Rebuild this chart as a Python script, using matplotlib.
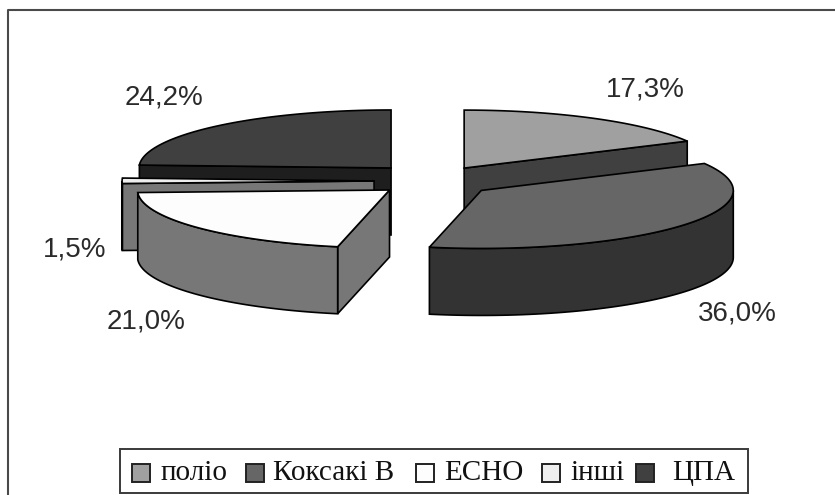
import numpy as np
import matplotlib
matplotlib.use('Agg')
import matplotlib.pyplot as plt
from matplotlib.patches import Polygon, Rectangle

# share of isolates per group, percent
categories = ['поліо', 'Коксакі B', 'ECHO', 'інші', 'ЦПА']
values = [17.3, 36.0, 21.0, 1.5, 24.2]
value_labels = ['17,3%', '36,0%', '21,0%', '1,5%', '24,2%']

# pie look
top_colors = ['#a0a0a0', '#666666', '#fdfdfd', '#eeeeee', '#404040']
rim_colors = ['#505050', '#333333', '#777777', '#777777', '#222222']
cut_colors = ['#404040', '#333333', '#777777', '#777777', '#1e1e1e']
explode_x = [0.285, 0.27, 0.195, 0.21, 0.207]
explode_y = [0.26, 0.27, 0.24, 0.22, 0.31]
draw_order = [4, 3, 2, 0, 1]  # back slices first
label_pos = [(645, 89), (737, 313), (146, 322), (75, 250), (164, 97)]

W, H = 835, 495
CX, CY = 427, 181
RX, RY = 252, 58
DEPTH = 67

fig = plt.figure(figsize=(W / 100, H / 100), dpi=100)
ax = fig.add_axes([0, 0, 1, 1])
ax.set_xlim(0, W)
ax.set_ylim(H, 0)
ax.axis('off')

# outer chart frame, open to the right and bottom edges
ax.plot([7.5, 7.5, 835], [495, 9.5, 9.5], color='#4a4a4a', lw=1.5, solid_capstyle='butt')


def rim(theta):
    return RX * np.sin(theta), -RY * np.cos(theta)


edges = np.cumsum([0] + values) / sum(values) * 2 * np.pi

for i in draw_order:
    a0, a1 = edges[i], edges[i + 1]
    mid = (a0 + a1) / 2
    ox = CX + explode_x[i] * RX * np.sin(mid)
    oy = CY - explode_y[i] * RY * np.cos(mid)
    t = np.linspace(a0, a1, 80)
    x, y = rim(t)
    x, y = x + ox, y + oy

    # flat cut faces, only the ones turned towards the viewer
    cuts = []
    if np.sin(a0) < -1e-6:
        cuts.append(a0)
    if np.sin(a1) > 1e-6:
        cuts.append(a1)
    for a in cuts:
        ex, ey = rim(a)
        ex, ey = ex + ox, ey + oy
        face = [(ox, oy), (ex, ey), (ex, ey + DEPTH), (ox, oy + DEPTH)]
        ax.add_patch(Polygon(face, closed=True, fc=cut_colors[i], ec='black', lw=1.2))

    # curved outer wall, only the part facing the viewer
    front = (t > np.pi / 2) & (t < 3 * np.pi / 2)
    if front.any():
        fx, fy = x[front], y[front]
        wall = np.r_[np.c_[fx, fy], np.c_[fx, fy + DEPTH][::-1]]
        ax.add_patch(Polygon(wall, closed=True, fc=rim_colors[i], ec='black', lw=1.2))

    # top of the slice
    top = np.r_[[[ox, oy]], np.c_[x, y]]
    ax.add_patch(Polygon(top, closed=True, fc=top_colors[i], ec='black', lw=1.2))

for lab, (lx, ly) in zip(value_labels, label_pos):
    ax.text(lx, ly, lab, ha='center', va='center', fontsize=20,
            family='Liberation Sans', color='#2a2a2a')

# legend box drawn by hand so the swatches sit tight against the text
ax.add_patch(Rectangle((120, 449), 628, 44, fc='white', ec='#3a3a3a', lw=1.4))
swatch_x = [132, 246, 416, 542, 636]
text_x = [161, 273, 444, 570, 672]
for name, c, sx, tx in zip(categories, top_colors, swatch_x, text_x):
    ax.add_patch(Rectangle((sx, 464), 18, 18, fc=c, ec='#222222', lw=1.4))
    ax.text(tx, 473, name, ha='left', va='center', fontsize=21,
            family='Liberation Serif', color='#111111')

fig.savefig('out.png', dpi=100)
